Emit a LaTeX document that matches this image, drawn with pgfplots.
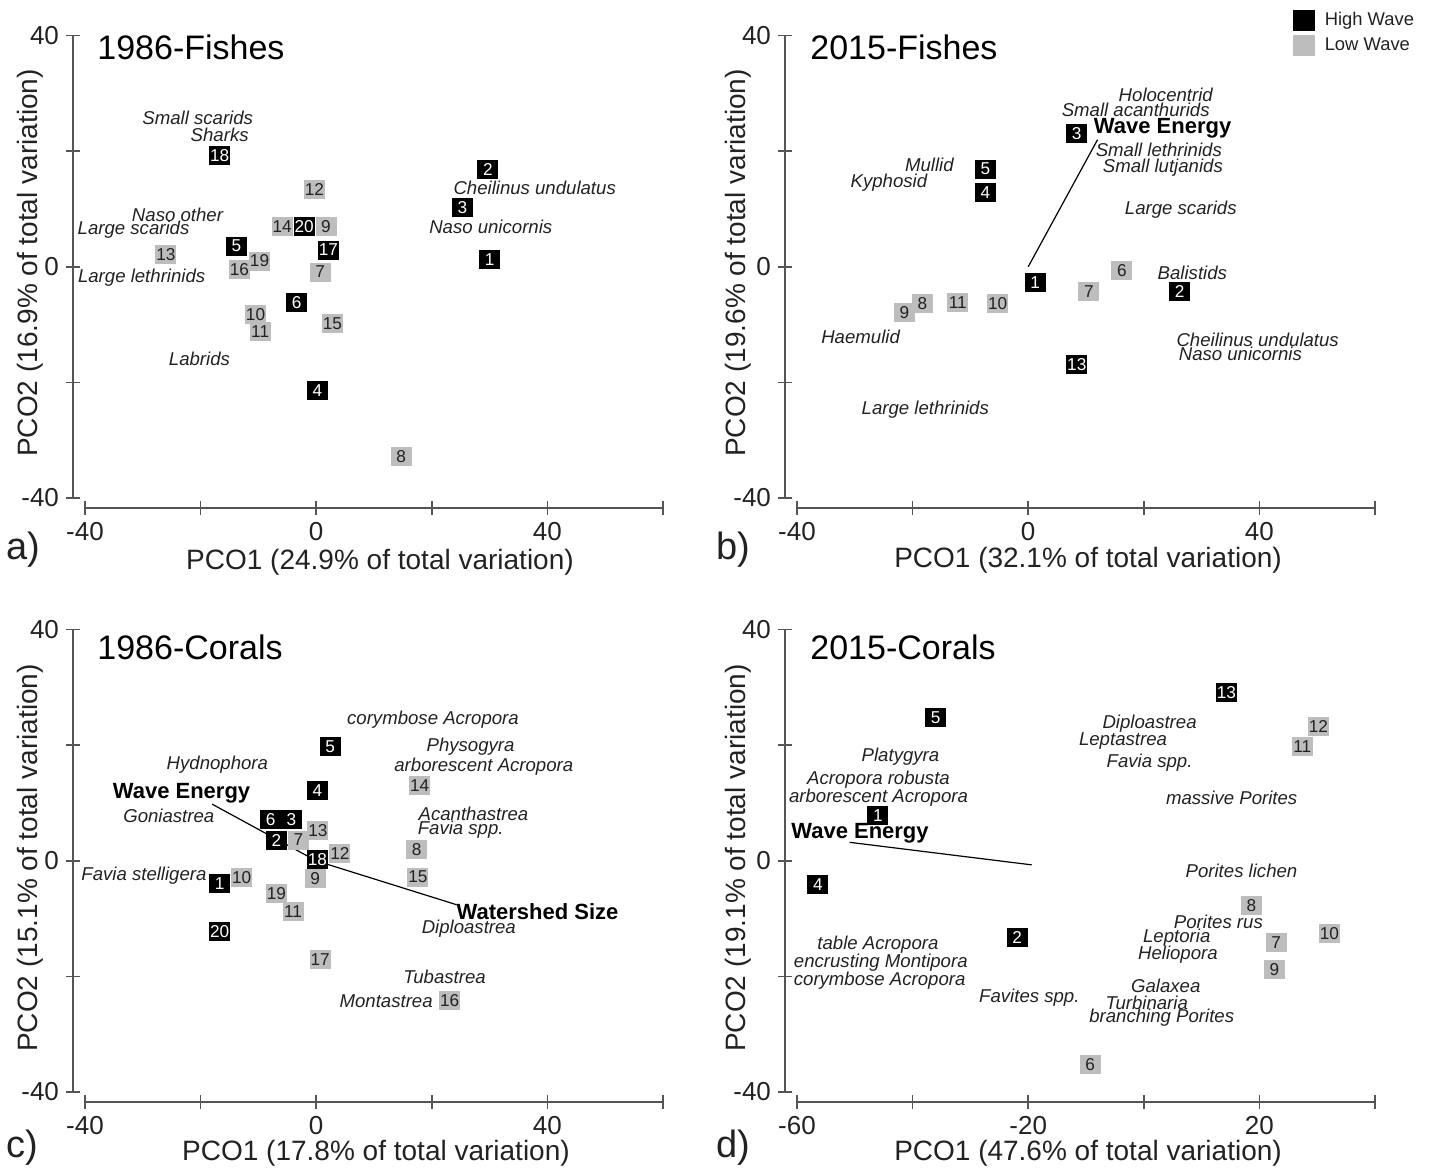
\documentclass[border=0pt]{standalone}
\usepackage{fontspec}
\setmainfont{Liberation Sans}
\usepackage{pgfplots}
\pgfplotsset{compat=1.18}
\definecolor{axgray}{HTML}{555555}
\definecolor{boxgray}{HTML}{BDBDBD}
\definecolor{txt}{HTML}{222222}
\tikzset{
  sp/.style={font=\fontsize{9.3}{10}\selectfont\itshape, text=txt, inner sep=0pt},
  wv/.style={font=\fontsize{11}{12}\selectfont\bfseries, text=black, inner sep=0pt},
  lab/.style={font=\fontsize{14}{16}\selectfont, text=txt, inner sep=0pt},
  ttl/.style={font=\fontsize{17}{19}\selectfont, text=black, inner sep=0pt, anchor=west},
  let/.style={font=\fontsize{19}{21}\selectfont, text=txt, inner sep=0pt, anchor=west},
}
\pgfplotsset{
  pco/.style={
    anchor=south west, x=2.89pt, y=2.89pt, ymin=-40, ymax=40,
    axis lines*=left, axis x line shift=5pt, axis y line shift=6pt,
    axis line style={axgray, line width=0.8pt},
    tick style={axgray, line width=0.8pt}, tick align=center, major tick length=7pt,
    ytick={-40,-20,0,20,40}, yticklabels={-40,,0,,40},
    tick label style={font=\fontsize{13}{15}\selectfont, text=txt},
    clip=false,
  },
  hi/.style={draw=none, mark=none, nodes near coords, point meta=explicit symbolic,
    nodes near coords style={anchor=center, fill=black, text=white,
      font=\fontsize{8.6}{9}\selectfont, minimum width=10.5pt, minimum height=9.5pt, inner sep=0.2pt},
    legend image code/.code={\fill[black] (0pt,-5.3pt) rectangle (11pt,5.3pt);}},
  lo/.style={draw=none, mark=none, nodes near coords, point meta=explicit symbolic,
    nodes near coords style={anchor=center, fill=boxgray, text=txt,
      font=\fontsize{8.6}{9}\selectfont, minimum width=10.5pt, minimum height=9.5pt, inner sep=0.2pt},
    legend image code/.code={\fill[boxgray] (0pt,-5.3pt) rectangle (11pt,5.3pt);}},
  vec/.style={black, line width=0.6pt, mark=none},
}
\begin{document}
\begin{tikzpicture}
\useasboundingbox (0,0) rectangle (715pt,-584.5pt);

% ---------------- a) 1986-Fishes
\begin{axis}[pco, at={(42.5pt,-249pt)}, xmin=-40, xmax=60,
  xtick={-40,-20,0,20,40,60}, xticklabels={-40,,0,,40,}]
\addplot[hi] table[meta=l, row sep=\\] {x y l\\
-16.7 19.3 18\\ 29.7 16.9 2\\ 25.3 10.2 3\\ -2.1 6.9 20\\ -13.8 3.6 5\\ 2.1 2.9 17\\
30.0 1.2 1\\ -3.4 -6.2 6\\ 0.2 -21.4 4\\};
\addplot[lo] table[meta=l, row sep=\\] {x y l\\
-0.3 13.4 12\\ -5.9 6.9 14\\ 1.7 6.9 9\\ -26.0 2.1 13\\ -9.8 1.0 19\\ -13.3 -0.5 16\\
0.7 -0.9 7\\ -10.5 -8.3 10\\ -9.7 -11.2 11\\ 2.8 -9.8 15\\ 14.7 -32.8 8\\};
\node[sp] at (axis cs:-20.5,25.7) {Small scarids};
\node[sp] at (axis cs:-16.7,22.9) {Sharks};
\node[sp] at (axis cs:37.8,13.6) {Cheilinus undulatus};
\node[sp] at (axis cs:30.2,6.9) {Naso unicornis};
\node[sp] at (axis cs:-24.0,9.0) {Naso other};
\node[sp] at (axis cs:-31.6,6.4) {Large scarids};
\node[sp] at (axis cs:-30.2,-1.9) {Large lethrinids};
\node[sp] at (axis cs:-20.2,-15.9) {Labrids};
\end{axis}

% ---------------- b) 2015-Fishes
\begin{axis}[pco, at={(398.5pt,-249pt)}, xmin=-40, xmax=60,
  xtick={-40,-20,0,20,40,60}, xticklabels={-40,,0,,40,},
  legend style={at={(axis description cs:0.857,1.057)}, anchor=north west, draw=none, fill=none,
    font=\fontsize{9.2}{10}\selectfont, text=txt, row sep=1.4pt, inner sep=0pt,
    nodes={inner sep=1.5pt}, /tikz/every odd column/.append style={column sep=3.5pt}},
  legend cell align=left]
\addplot[hi] table[meta=l, row sep=\\] {x y l\\
8.4 23.1 3\\ -7.4 16.9 5\\ -7.4 12.8 4\\ 1.2 -2.8 1\\ 26.2 -4.3 2\\ 8.4 -16.9 13\\};
\addplot[lo] table[meta=l, row sep=\\] {x y l\\
16.2 -0.7 6\\ 10.5 -4.3 7\\ -21.4 -7.9 9\\ -18.3 -6.4 8\\ -12.2 -6.2 11\\ -5.3 -6.4 10\\};
\legend{High Wave, Low Wave}
\addplot[vec, forget plot] coordinates {(0,0) (12,22)};
\node[sp] at (axis cs:23.8,29.7) {Holocentrid};
\node[sp] at (axis cs:18.6,27.2) {Small acanthurids};
\node[wv, anchor=west] at (axis cs:11.3,24.0) {Wave Energy};
\node[sp] at (axis cs:22.6,20.2) {Small lethrinids};
\node[sp] at (axis cs:23.3,17.2) {Small lutjanids};
\node[sp] at (axis cs:-17.1,17.6) {Mullid};
\node[sp] at (axis cs:-24.1,14.5) {Kyphosid};
\node[sp] at (axis cs:26.4,9.8) {Large scarids};
\node[sp] at (axis cs:28.4,-1.0) {Balistids};
\node[sp] at (axis cs:39.7,-12.6) {Cheilinus undulatus};
\node[sp] at (axis cs:36.7,-15.0) {Naso unicornis};
\node[sp] at (axis cs:-29.0,-12.1) {Haemulid};
\node[sp] at (axis cs:-17.8,-24.7) {Large lethrinids};
\end{axis}

% ---------------- c) 1986-Corals
\begin{axis}[pco, at={(42.5pt,-546pt)}, xmin=-40, xmax=60,
  xtick={-40,-20,0,20,40,60}, xticklabels={-40,,0,,40,}]
\addplot[vec] coordinates {(-18,9.8) (0,0) (24.3,-7.6)};
\addplot[hi] table[meta=l, row sep=\\] {x y l\\
2.4 19.7 5\\ 0.2 12.2 4\\ -7.9 7.2 6\\ -4.3 7.1 3\\ -6.9 3.6 2\\ 0.2 0.3 18\\
-16.7 -4.0 1\\ -16.7 -12.2 20\\};
\addplot[lo] table[meta=l, row sep=\\] {x y l\\
17.9 13.1 14\\ 0.3 5.3 13\\ -3.1 3.6 7\\ 4.1 1.2 12\\ 17.4 1.9 8\\ -0.2 -3.1 9\\
17.6 -2.8 15\\ -12.9 -2.9 10\\ -6.9 -5.7 19\\ -4.0 -8.8 11\\ 0.7 -17.1 17\\ 23.1 -24.1 16\\};
\node[sp] at (axis cs:20.2,24.5) {corymbose Acropora};
\node[sp] at (axis cs:-17.1,16.6) {Hydnophora};
\node[sp] at (axis cs:26.7,19.8) {Physogyra};
\node[sp] at (axis cs:29.0,16.2) {arborescent Acropora};
\node[wv] at (axis cs:-23.3,11.7) {Wave Energy};
\node[sp] at (axis cs:-25.5,7.8) {Goniastrea};
\node[sp] at (axis cs:27.2,8.1) {Acanthastrea};
\node[sp] at (axis cs:25.0,5.3) {Favia spp.};
\node[sp] at (axis cs:-29.8,-2.6) {Favia stelligera};
\node[wv] at (axis cs:38.3,-8.8) {Watershed Size};
\node[sp] at (axis cs:26.4,-11.7) {Diploastrea};
\node[sp] at (axis cs:22.2,-20.0) {Tubastrea};
\node[sp] at (axis cs:12.1,-24.3) {Montastrea};
\end{axis}

% ---------------- d) 2015-Corals
\begin{axis}[pco, at={(398.5pt,-546pt)}, xmin=-60, xmax=40,
  xtick={-60,-40,-20,0,20,40}, xticklabels={-60,,-20,,20,}]
\addplot[vec] coordinates {(-50.9,3.2) (-19.4,-0.7)};
\addplot[hi] table[meta=l, row sep=\\] {x y l\\
14.3 29.1 13\\ -36.0 24.8 5\\ -46.0 7.9 1\\ -56.4 -4.1 4\\ -21.9 -13.3 2\\};
\addplot[lo] table[meta=l, row sep=\\] {x y l\\
30.2 23.3 12\\ 27.4 19.7 11\\ 18.6 -7.8 8\\ 32.1 -12.6 10\\ 22.9 -14.1 7\\ 22.6 -18.8 9\\ -9.3 -35.2 6\\};
\node[sp] at (axis cs:1.0,23.8) {Diploastrea};
\node[sp] at (axis cs:-3.6,20.7) {Leptastrea};
\node[sp] at (axis cs:1.0,16.9) {Favia spp.};
\node[sp] at (axis cs:15.2,10.9) {massive Porites};
\node[sp] at (axis cs:-42.1,18.1) {Platygyra};
\node[sp] at (axis cs:-45.9,14.0) {Acropora robusta};
\node[sp] at (axis cs:-45.9,11.0) {arborescent Acropora};
\node[wv] at (axis cs:-49.1,4.7) {Wave Energy};
\node[sp] at (axis cs:16.9,-1.7) {Porites lichen};
\node[sp] at (axis cs:12.9,-10.5) {Porites rus};
\node[sp] at (axis cs:5.7,-13.3) {Leptoria};
\node[sp] at (axis cs:5.9,-16.2) {Heliopora};
\node[sp] at (axis cs:-46.0,-14.5) {table Acropora};
\node[sp] at (axis cs:-45.5,-17.6) {encrusting Montipora};
\node[sp] at (axis cs:-45.7,-20.7) {corymbose Acropora};
\node[sp] at (axis cs:-19.8,-23.6) {Favites spp.};
\node[sp] at (axis cs:3.8,-21.7) {Galaxea};
\node[sp] at (axis cs:0.5,-24.5) {Turbinaria};
\node[sp] at (axis cs:3.1,-27.2) {branching Porites};
\end{axis}

% ---------------- titles, axis labels, panel letters
\node[ttl] at (48.5pt,-23.5pt) {1986-Fishes};
\node[ttl] at (405pt,-23.5pt) {2015-Fishes};
\node[ttl] at (48.5pt,-323.5pt) {1986-Corals};
\node[ttl] at (405pt,-323.5pt) {2015-Corals};
\node[lab, rotate=90] at (15pt,-131.5pt) {PCO2 (16.9\% of total variation)};
\node[lab, rotate=90] at (369pt,-131.5pt) {PCO2 (19.6\% of total variation)};
\node[lab, rotate=90] at (15pt,-429pt) {PCO2 (15.1\% of total variation)};
\node[lab, rotate=90] at (369pt,-429pt) {PCO2 (19.1\% of total variation)};
\node[lab] at (190pt,-281pt) {PCO1 (24.9\% of total variation)};
\node[lab] at (544pt,-280pt) {PCO1 (32.1\% of total variation)};
\node[lab] at (188pt,-576.5pt) {PCO1 (17.8\% of total variation)};
\node[lab] at (544pt,-576.5pt) {PCO1 (47.6\% of total variation)};
\node[let] at (3pt,-275pt) {a)};
\node[let] at (358pt,-275pt) {b)};
\node[let] at (3pt,-574pt) {c)};
\node[let] at (358pt,-574pt) {d)};
\end{tikzpicture}
\end{document}
